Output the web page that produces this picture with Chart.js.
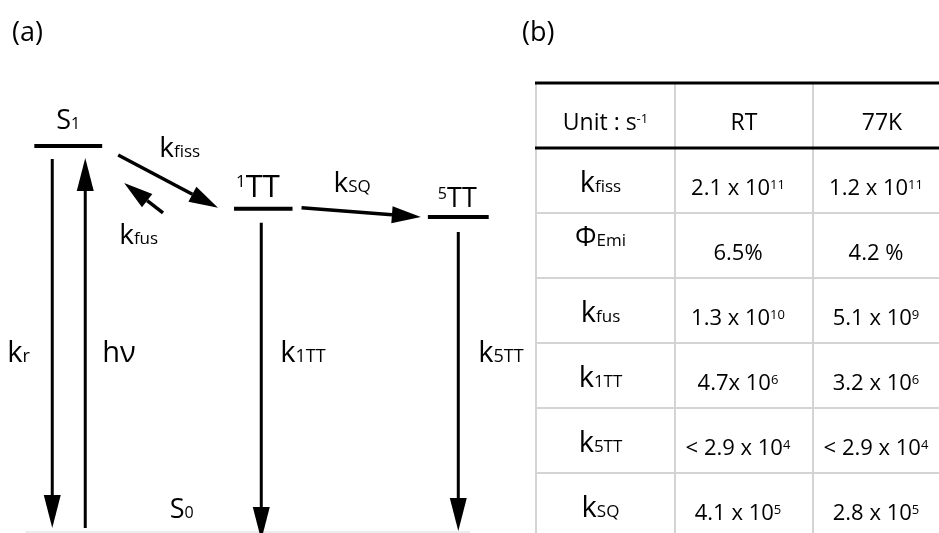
<!DOCTYPE html>
<html lang="en">
<head>
<meta charset="UTF-8">
<title>Singlet fission kinetics</title>
<script src="https://cdn.jsdelivr.net/npm/chart.js@4"></script>
<style>
  html, body { margin: 0; padding: 0; background: #fff; }
  #wrap { width: 939px; height: 533px; }
</style>
</head>
<body>
<div id="wrap"><canvas id="diagram" width="939" height="533"></canvas></div>
<script>
// (a) energy levels, relative energy with S1 = 1
const levelNames = ['S1', '1TT', '5TT', 'S0'];
const levelLabels = ['S_{1}', '^{1}TT', '^{5}TT', 'S_{0}'];
const levelColumn = [0, 1, 2, 0];
const levelEnergy = [1.0, 0.837, 0.816, 0];

// (a) transitions between levels
const transitionLabels = ['k_{r}', 'hν', 'k_{1TT}', 'k_{5TT}', 'k_{fiss}', 'k_{fus}', 'k_{SQ}'];
const transitionFrom = ['S1', 'S0', '1TT', '5TT', 'S1', '1TT', '1TT'];
const transitionTo = ['S0', 'S1', 'S0', 'S0', '1TT', 'S1', '5TT'];

// (b) rate table
const tableHeader = ['Unit : s^{-1}', 'RT', '77K'];
const tableRowLabels = ['k_{fiss}', 'Φ_{Emi}', 'k_{fus}', 'k_{1TT}', 'k_{5TT}', 'k_{SQ}'];
const valuesRT = ['2.1 x 10^{11}', '6.5%', '1.3 x 10^{10}', '4.7x 10^{6}', '< 2.9 x 10^{4}', '4.1 x 10^{5}'];
const values77K = ['1.2 x 10^{11}', '4.2 %', '5.1 x 10^{9}', '3.2 x 10^{6}', '< 2.9 x 10^{4}', '2.8 x 10^{5}'];

// ---- styles / layout ----
const FONT = '"Open Sans", "Noto Sans", sans-serif';
const levelStyle = {
  'S1':  { half: 0.174, color: '#000', width: 4 },
  '1TT': { half: 0.15, color: '#000', width: 4 },
  '5TT': { half: 0.156, color: '#000', width: 4 },
  'S0':  { from: -0.22, to: 2.06, color: '#e6e6e6', width: 1.5 }
};
// pixel offsets of arrow ends from the level anchors
const arrowStyle = {
  'k_{r}':    { kind: 'v', dx: -16, g1: 13, g2: -4, lab: [-45, 0] },
  'hν':       { kind: 'v', dx: 17, g1: -4, g2: 12, col: 'S1', lab: [17, 0] },
  'k_{1TT}':  { kind: 'v', dx: -2, g1: 14, g2: 8, lab: [19, 0] },
  'k_{5TT}':  { kind: 'v', dx: 0, g1: 15, g2: -1, lab: [20, 0] },
  'k_{fiss}': { kind: 'd', e1: 'right', o1: [16, 9], e2: 'left', o2: [-16, -1], lab: [41, 2, 'tail'] },
  'k_{fus}':  { kind: 'd', e1: 'left', o1: [-71, 4], e2: 'right', o2: [22, 37], lab: [-5, 61, 'tip'] },
  'k_{SQ}':   { kind: 'd', e1: 'right', o1: [9, -1], e2: 'left', o2: [-7, 0], lab: [32, -16, 'tail'] }
};
const verticalLabelEnergy = 0.44;
const table = { left: 536, top: 83, colW: [139, 138, 138], headH: 65, rowH: 65 };

function parseRich(str) {
  const parts = [];
  const re = /([_^])\{([^}]*)\}|([^_^]+)/g;
  let m;
  while ((m = re.exec(str)) !== null) {
    if (m[3]) parts.push({ t: m[3], k: 'n' });
    else parts.push({ t: m[2], k: m[1] === '_' ? 'sub' : 'sup' });
  }
  return parts;
}

// draw text with sub/superscripts; subscripts sit on the baseline
function drawRich(ctx, str, x, y, align, big, small) {
  const parts = parseRich(str);
  let total = 0;
  parts.forEach(p => {
    ctx.font = (p.k === 'n' ? big : small) + 'px ' + FONT;
    p.w = ctx.measureText(p.t).width;
    total += p.w;
  });
  let cx = align === 'center' ? x - total / 2 : x;
  ctx.textAlign = 'left';
  ctx.textBaseline = 'alphabetic';
  parts.forEach(p => {
    const size = p.k === 'n' ? big : small;
    ctx.font = size + 'px ' + FONT;
    const dy = p.k === 'sup' ? -(big - small) * 0.72 : 0;
    ctx.fillText(p.t, cx, y + dy);
    cx += p.w;
  });
}

function arrow(ctx, x1, y1, x2, y2, headLen, headHalf) {
  const a = Math.atan2(y2 - y1, x2 - x1);
  const bx = x2 - headLen * Math.cos(a), by = y2 - headLen * Math.sin(a);
  ctx.beginPath(); ctx.moveTo(x1, y1); ctx.lineTo(bx, by); ctx.stroke();
  ctx.beginPath();
  ctx.moveTo(x2, y2);
  ctx.lineTo(bx + headHalf * Math.sin(a), by - headHalf * Math.cos(a));
  ctx.lineTo(bx - headHalf * Math.sin(a), by + headHalf * Math.cos(a));
  ctx.closePath(); ctx.fill();
}

const levelDatasets = levelNames.map((name, i) => {
  const s = levelStyle[name];
  const x0 = s.from !== undefined ? s.from : levelColumn[i] - s.half;
  const x1 = s.to !== undefined ? s.to : levelColumn[i] + s.half;
  return {
    label: name,
    data: [{ x: x0, y: levelEnergy[i] }, { x: x1, y: levelEnergy[i] }],
    borderColor: s.color,
    borderWidth: s.width,
    pointRadius: 0,
    fill: false
  };
});

const diagramPlugin = {
  id: 'diagram',
  afterDatasetsDraw(chart) {
    const ctx = chart.ctx;
    const xs = chart.scales.x, ys = chart.scales.y;
    const idx = n => levelNames.indexOf(n);
    const cx = n => xs.getPixelForValue(levelColumn[idx(n)]);
    const cy = n => ys.getPixelForValue(levelEnergy[idx(n)]);
    const endX = (n, side) => {
      const s = levelStyle[n], c = levelColumn[idx(n)];
      return xs.getPixelForValue(side === 'left' ? c - s.half : c + s.half);
    };
    ctx.save();
    ctx.fillStyle = '#000';
    ctx.strokeStyle = '#000';

    // panel letters
    drawRich(ctx, '(a)', 12, 41, 'left', 27, 27);
    drawRich(ctx, '(b)', 522, 41, 'left', 27, 27);

    // level labels
    drawRich(ctx, levelLabels[idx('S1')], cx('S1'), cy('S1') - 17, 'center', 27, 16);
    drawRich(ctx, levelLabels[idx('1TT')], endX('1TT', 'left') + 2, cy('1TT') - 12, 'left', 31, 17);
    drawRich(ctx, levelLabels[idx('5TT')], endX('5TT', 'left') + 10, cy('5TT') - 10, 'left', 27, 16);
    drawRich(ctx, levelLabels[idx('S0')], xs.getPixelForValue(0.52), cy('S0') - 14, 'left', 27, 16);

    // transitions
    const labY = ys.getPixelForValue(verticalLabelEnergy);
    transitionLabels.forEach((lab, i) => {
      const st = arrowStyle[lab];
      const from = transitionFrom[i], to = transitionTo[i];
      if (st.kind === 'v') {
        const upper = st.col || (levelEnergy[idx(from)] > levelEnergy[idx(to)] ? from : to);
        const x = cx(upper) + st.dx;
        ctx.lineWidth = 3;
        arrow(ctx, x, cy(from) + st.g1, x, cy(to) + st.g2, 33, 8.5);
        drawRich(ctx, lab, x + st.lab[0], labY + st.lab[1], 'left', 29, 18);
      } else {
        const tx = endX(from, st.e1) + st.o1[0], ty = cy(from) + st.o1[1];
        const hx = endX(to, st.e2) + st.o2[0], hy = cy(to) + st.o2[1];
        ctx.lineWidth = 3.5;
        arrow(ctx, tx, ty, hx, hy, 29, 8.5);
        const ax = st.lab[2] === 'tail' ? tx : hx, ay = st.lab[2] === 'tail' ? ty : hy;
        drawRich(ctx, lab, ax + st.lab[0], ay + st.lab[1], 'left', 28, 17);
      }
    });

    // table (b)
    const T = table;
    const right = chart.width;
    const colX = [T.left];
    T.colW.forEach((w, i) => colX.push(colX[i] + w));
    const bottom = T.top + T.headH + T.rowH * tableRowLabels.length;
    ctx.strokeStyle = '#d4d4d4';
    ctx.lineWidth = 2;
    colX.forEach(x => {
      ctx.beginPath(); ctx.moveTo(x, T.top); ctx.lineTo(x, bottom); ctx.stroke();
    });
    for (let r = 1; r < tableRowLabels.length; r++) {
      const y = T.top + T.headH + r * T.rowH;
      ctx.beginPath(); ctx.moveTo(T.left, y); ctx.lineTo(right, y); ctx.stroke();
    }
    ctx.strokeStyle = '#000';
    ctx.lineWidth = 3;
    [T.top, T.top + T.headH].forEach(y => {
      ctx.beginPath(); ctx.moveTo(T.left - 1, y); ctx.lineTo(right, y); ctx.stroke();
    });

    const colC = T.colW.map((w, i) => colX[i] + w / 2);
    tableHeader.forEach((h, i) => drawRich(ctx, h, colC[i], T.top + 47, 'center', 23, 13));
    tableRowLabels.forEach((lab, r) => {
      const top = T.top + T.headH + r * T.rowH;
      const isPhi = lab.charAt(0) === 'Φ';
      drawRich(ctx, lab, colC[0] - 5, top + (isPhi ? 33 : 44), 'center', isPhi ? 27 : 29, 17);
      drawRich(ctx, valuesRT[r], colC[1] - 6, top + 47, 'center', 22, 13);
      drawRich(ctx, values77K[r], colC[2] - 6, top + 47, 'center', 22, 13);
    });
    ctx.restore();
  }
};

new Chart(document.getElementById('diagram'), {
  type: 'line',
  data: { datasets: levelDatasets },
  options: {
    responsive: false,
    animation: false,
    devicePixelRatio: 1,
    events: [],
    layout: { padding: 0 },
    plugins: { legend: { display: false }, tooltip: { enabled: false } },
    scales: {
      x: { type: 'linear', min: -0.35, max: 4.465, display: false },
      y: { type: 'linear', min: -0.0026, max: 1.378, display: false }
    }
  },
  plugins: [diagramPlugin]
});
</script>
</body>
</html>
